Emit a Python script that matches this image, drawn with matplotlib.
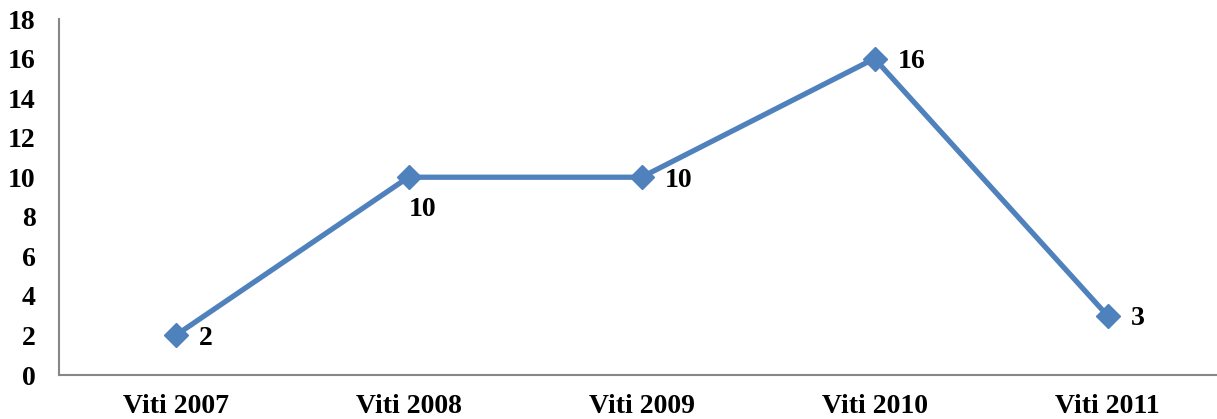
import matplotlib.pyplot as plt

# data
categories = ["Viti 2007", "Viti 2008", "Viti 2009", "Viti 2010", "Viti 2011"]
values = [2, 10, 10, 16, 3]
y_ticks = [0, 2, 4, 6, 8, 10, 12, 14, 16, 18]

plt.rcParams["font.family"] = ["Liberation Serif", "DejaVu Serif"]
plt.rcParams["font.weight"] = "bold"

fig = plt.figure(figsize=(12.17, 4.19), dpi=100)
ax = fig.add_axes([59 / 1217, 44 / 419, 1165 / 1217, 356 / 419])

x = list(range(len(categories)))
ax.plot(x, values, color="#4F81BD", linewidth=3.8, marker="D", markersize=12,
        markerfacecolor="#4F81BD", markeredgecolor="#4F81BD", clip_on=False)

# data labels
for i, v in enumerate(values):
    if i == 1:
        ax.annotate(str(v), (i, v), xytext=(0, -14), textcoords="offset points",
                    ha="left", va="top", fontsize=20, fontweight="bold")
    else:
        ax.annotate(str(v), (i, v), xytext=(17, -2), textcoords="offset points",
                    ha="left", va="center", fontsize=20, fontweight="bold")

ax.set_xlim(-0.5, len(categories) - 0.5)
ax.set_ylim(0, 18)
ax.set_xticks(x)
ax.set_xticklabels(categories, fontsize=20, fontweight="bold")
ax.set_yticks(y_ticks)
ax.set_yticklabels([str(t) for t in y_ticks], fontsize=20, fontweight="bold")
ax.tick_params(axis="both", length=0)
ax.tick_params(axis="x", pad=14)
ax.tick_params(axis="y", pad=17)

for side in ["top", "right"]:
    ax.spines[side].set_visible(False)
for side in ["left", "bottom"]:
    ax.spines[side].set_color("#868686")
    ax.spines[side].set_linewidth(1.5)

fig.savefig("out.png", dpi=100)
